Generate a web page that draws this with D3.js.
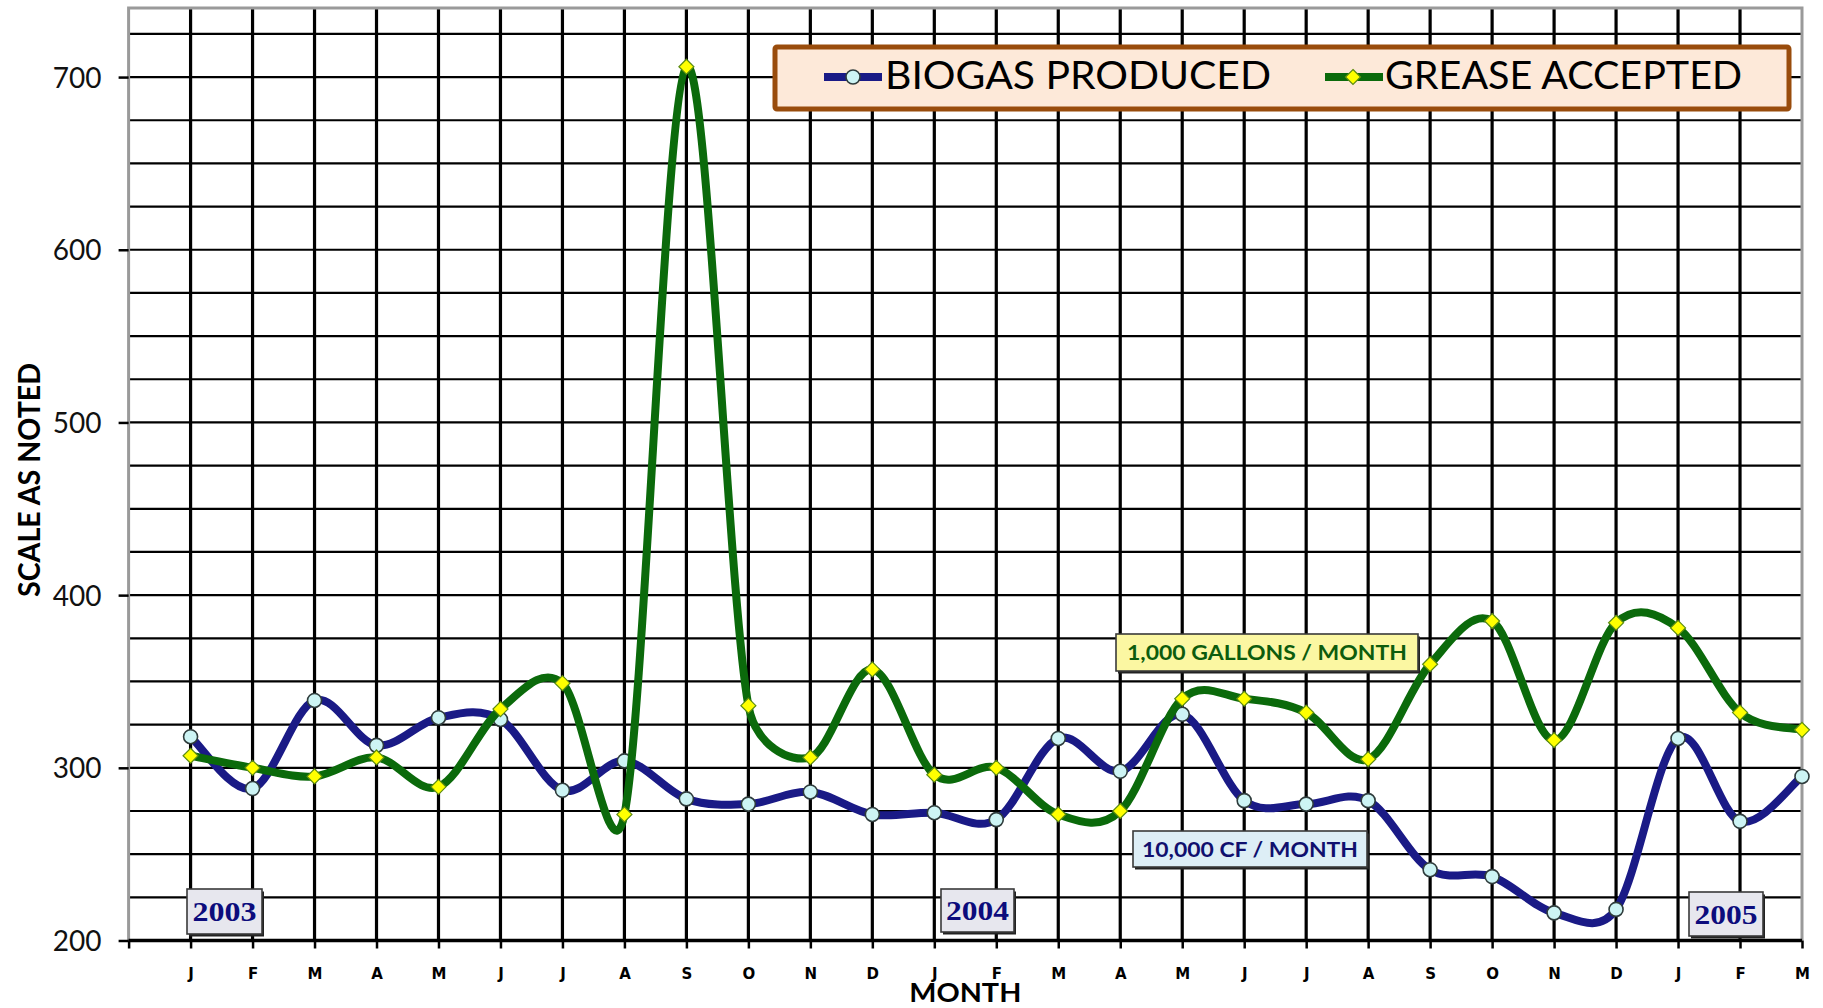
<!DOCTYPE html>
<html><head><meta charset="utf-8">
<script src="https://cdn.jsdelivr.net/npm/d3@7"></script>
<style>body{margin:0;background:#fff}svg{display:block}</style>
</head><body><svg id="c" width="1823" height="1008"></svg>
<script>
// ---------- data ----------
const months = ["J","F","M","A","M","J","J","A","S","O","N","D","J","F","M","A","M","J","J","A","S","O","N","D","J","F","M"];
const biogas = [318,288,339,313,329,328,287,304,282,279,286,273,274,270,317,298,331,281,279,281,241,237,216,218,317,269,295];
const grease = [307,300,295,306,289,334,349,273,706,336,306,357,296,300,273,275,340,340,332,305,360,385,316,384,381,332,322];
const yTicks = [200,300,400,500,600,700];
const seriesNames = ["BIOGAS PRODUCED","GREASE ACCEPTED"];
const yearLabels = ["2003","2004","2005"];
const unitLabels = ["1,000 GALLONS / MONTH","10,000 CF / MONTH"];

// ---------- layout ----------
const L = 128.6, R = 1802, T = 8, B = 940.5;
const svg = d3.select("#c");
const x = d3.scaleLinear().domain([0, months.length]).range([L, R]);
const y = d3.scaleLinear().domain([200, 740]).range([B, T]);

// horizontal gridlines every 25
const g = svg.append("g");
g.selectAll("line.h").data(d3.range(225, 740, 25)).join("line")
  .attr("x1", L).attr("x2", R).attr("y1", d => y(d)).attr("y2", d => y(d))
  .attr("stroke", "#000").attr("stroke-width", 2.2);
// vertical gridlines
g.selectAll("line.v").data(d3.range(1, months.length)).join("line")
  .attr("x1", d => x(d)).attr("x2", d => x(d)).attr("y1", T).attr("y2", B)
  .attr("stroke", "#000").attr("stroke-width", 3.2);
// plot border (gray)
g.append("path").attr("d", `M${L},${B} L${L},${T} L${R},${T} L${R},${B}`)
  .attr("fill", "none").attr("stroke", "#9a9a9a").attr("stroke-width", 3);

// y axis
const ya = svg.append("g").attr("transform", `translate(${L},0)`)
  .call(d3.axisLeft(y).tickValues(yTicks).tickSize(10).tickFormat(d3.format("d")));
ya.select(".domain").remove();
ya.selectAll(".tick line").attr("stroke", "#000").attr("stroke-width", 2.5);
ya.selectAll(".tick text").attr("x", -27).attr("dy", "0.36em")
  .attr("font-family", "Lato, 'Open Sans', sans-serif").attr("font-size", 28).attr("fill", "#111");

// x axis
const xa = svg.append("g").attr("transform", `translate(0,${B})`)
  .call(d3.axisBottom(x).tickValues(d3.range(0, months.length + 1)).tickSize(8)
    .tickFormat(i => i === 0 ? "" : months[i - 1]));
xa.select(".domain").attr("stroke", "#000").attr("stroke-width", 3.5).attr("d", `M${L},0H${R}`);
xa.selectAll(".tick line").attr("stroke", "#000").attr("stroke-width", 2.5);
xa.selectAll(".tick text").attr("y", 38).attr("dy", 0)
  .attr("font-family", "'DejaVu Sans', sans-serif").attr("font-weight", 900)
  .attr("font-size", 15).attr("fill", "#000");

// axis titles
svg.append("text").attr("transform", "translate(40,480) rotate(-90)")
  .attr("text-anchor", "middle").attr("font-family", "Lato, sans-serif").attr("font-weight", 700)
  .attr("font-size", 31).attr("textLength", 234).attr("lengthAdjust", "spacingAndGlyphs")
  .attr("fill", "#000").text("SCALE AS NOTED");
svg.append("text").attr("x", (L + R) / 2).attr("y", 1002)
  .attr("text-anchor", "middle").attr("font-family", "Lato, sans-serif").attr("font-weight", 700)
  .attr("font-size", 26).attr("textLength", 112).attr("lengthAdjust", "spacingAndGlyphs")
  .attr("fill", "#000").text("MONTH");

// ---------- smoothed line (Excel-like: Catmull-Rom handles clamped to half the segment) ----------
function smoothPath(vals) {
  const p = vals.map((v, i) => [x(i + 1), y(v)]);
  const path = d3.path();
  path.moveTo(p[0][0], p[0][1]);
  for (let i = 0; i < p.length - 1; i++) {
    const p0 = p[Math.max(0, i - 1)], p1 = p[i], p2 = p[i + 1], p3 = p[Math.min(p.length - 1, i + 2)];
    const seg = Math.hypot(p2[0] - p1[0], p2[1] - p1[1]);
    let h1 = [(p2[0] - p0[0]) / 6, (p2[1] - p0[1]) / 6];
    let h2 = [(p3[0] - p1[0]) / 6, (p3[1] - p1[1]) / 6];
    const lim = seg / 2;
    const l1 = Math.hypot(h1[0], h1[1]), l2 = Math.hypot(h2[0], h2[1]);
    if (l1 > lim) h1 = [h1[0] * lim / l1, h1[1] * lim / l1];
    if (l2 > lim) h2 = [h2[0] * lim / l2, h2[1] * lim / l2];
    path.bezierCurveTo(p1[0] + h1[0], p1[1] + h1[1], p2[0] - h2[0], p2[1] - h2[1], p2[0], p2[1]);
  }
  return path.toString();
}
const diamond = "M0,-7.5L7.5,0L0,7.5L-7.5,0Z";
const colBlue = "#1a1a86", colGreen = "#0b6a0b";

function drawSeries(vals, color, marker) {
  const s = svg.append("g");
  s.append("path").attr("d", smoothPath(vals)).attr("fill", "none")
    .attr("stroke", color).attr("stroke-width", 8).attr("stroke-linejoin", "round");
  if (marker === "circle") {
    s.selectAll("circle").data(vals).join("circle")
      .attr("cx", (d, i) => x(i + 1)).attr("cy", d => y(d)).attr("r", 7)
      .attr("fill", "#cdf4f4").attr("stroke", "#2f3c3c").attr("stroke-width", 1.6);
  } else {
    s.selectAll("path.m").data(vals).join("path").attr("class", "m")
      .attr("d", diamond).attr("transform", (d, i) => `translate(${x(i + 1)},${y(d)})`)
      .attr("fill", "#ffff00").attr("stroke", "#5c8c12").attr("stroke-width", 1.2);
  }
}
drawSeries(biogas, colBlue, "circle");
drawSeries(grease, colGreen, "diamond");

// ---------- legend ----------
const lg = svg.append("g");
lg.append("rect").attr("x", 775).attr("y", 47).attr("width", 1014).attr("height", 62)
  .attr("fill", "#fde9d9").attr("stroke", "#994c0c").attr("stroke-width", 5).attr("rx", 2);
lg.append("line").attr("x1", 824).attr("x2", 882).attr("y1", 77).attr("y2", 77)
  .attr("stroke", colBlue).attr("stroke-width", 8);
lg.append("circle").attr("cx", 853).attr("cy", 77).attr("r", 7)
  .attr("fill", "#cdf4f4").attr("stroke", "#2f3c3c").attr("stroke-width", 1.6);
lg.append("text").attr("x", 885).attr("y", 89).attr("font-family", "Lato, sans-serif")
  .attr("font-size", 38).attr("textLength", 386).attr("lengthAdjust", "spacingAndGlyphs")
  .attr("fill", "#000").text(seriesNames[0]);
lg.append("line").attr("x1", 1325).attr("x2", 1383).attr("y1", 77).attr("y2", 77)
  .attr("stroke", colGreen).attr("stroke-width", 8);
lg.append("path").attr("d", diamond).attr("transform", "translate(1353,77)")
  .attr("fill", "#ffff00").attr("stroke", "#5c8c12").attr("stroke-width", 1.2);
lg.append("text").attr("x", 1385).attr("y", 89).attr("font-family", "Lato, sans-serif")
  .attr("font-size", 38).attr("textLength", 357).attr("lengthAdjust", "spacingAndGlyphs")
  .attr("fill", "#000").text(seriesNames[1]);

// ---------- annotation boxes ----------
function box(bx, by, bw, bh, fill, text, tcolor, font, fsize, tlen, weight) {
  const a = svg.append("g");
  a.append("rect").attr("x", bx + 2).attr("y", by + 2.5).attr("width", bw).attr("height", bh).attr("fill", "#222");
  a.append("rect").attr("x", bx).attr("y", by).attr("width", bw).attr("height", bh)
    .attr("fill", fill).attr("stroke", "#3a3a3a").attr("stroke-width", 1.6);
  a.append("text").attr("x", bx + bw / 2).attr("y", by + bh / 2).attr("dy", "0.36em")
    .attr("text-anchor", "middle").attr("font-family", font).attr("font-weight", weight)
    .attr("font-size", fsize).attr("textLength", tlen).attr("lengthAdjust", "spacingAndGlyphs")
    .attr("fill", tcolor).text(text);
}
box(1116, 634, 302, 37, "#fbf7a2", unitLabels[0], "#0d5c0d", "Lato, sans-serif", 20, 280, 700);
box(1133, 831, 234, 36, "#ddeef6", unitLabels[1], "#10106e", "Lato, sans-serif", 21, 216, 700);
const serif = "'Liberation Serif', 'DejaVu Serif', serif";
box(187, 889, 75, 45, "#e7e7ee", yearLabels[0], "#0c0c7c", serif, 27, 64, 700);
box(941, 889, 73, 43, "#e7e7ee", yearLabels[1], "#0c0c7c", serif, 27, 63, 700);
box(1689, 892, 74, 44, "#e7e7ee", yearLabels[2], "#0c0c7c", serif, 27, 63, 700);
</script>
</body></html>
